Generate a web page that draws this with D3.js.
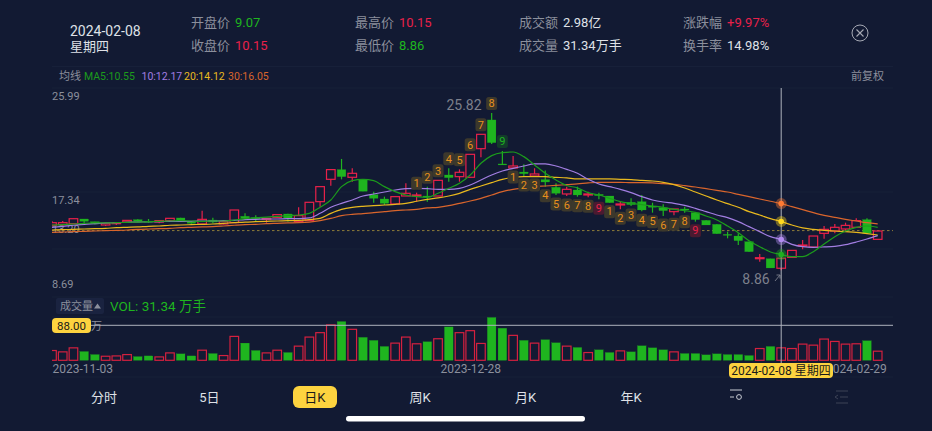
<!DOCTYPE html>
<html lang="zh">
<head>
<meta charset="utf-8">
<title>日K</title>
<script src="https://cdn.jsdelivr.net/npm/d3@7/dist/d3.min.js"></script>
<style>
html,body{margin:0;padding:0;background:#121a33;overflow:hidden}
svg{display:block}
text{font-family:"Roboto","Noto Sans CJK SC",sans-serif}
</style>
</head>
<body>
<svg id="chart" width="932" height="431"></svg>
<script>
// Trading days shown in the window
const dates = ["2023-11-03","2023-11-06","2023-11-07","2023-11-08","2023-11-09","2023-11-10","2023-11-13","2023-11-14","2023-11-15","2023-11-16","2023-11-17","2023-11-20","2023-11-21","2023-11-22","2023-11-23","2023-11-24","2023-11-27","2023-11-28","2023-11-29","2023-11-30","2023-12-01","2023-12-04","2023-12-05","2023-12-06","2023-12-07","2023-12-08","2023-12-11","2023-12-12","2023-12-13","2023-12-14","2023-12-15","2023-12-18","2023-12-19","2023-12-20","2023-12-21","2023-12-22","2023-12-25","2023-12-26","2023-12-27","2023-12-28","2023-12-29","2024-01-02","2024-01-03","2024-01-04","2024-01-05","2024-01-08","2024-01-09","2024-01-10","2024-01-11","2024-01-12","2024-01-15","2024-01-16","2024-01-17","2024-01-18","2024-01-19","2024-01-22","2024-01-23","2024-01-24","2024-01-25","2024-01-26","2024-01-29","2024-01-30","2024-01-31","2024-02-01","2024-02-02","2024-02-05","2024-02-06","2024-02-07","2024-02-08","2024-02-19","2024-02-20","2024-02-21","2024-02-22","2024-02-23","2024-02-26","2024-02-27","2024-02-28","2024-02-29"];

// Daily prices
const open  = [13.71,13.78,13.88,14.39,14.10,13.74,13.88,14.06,14.32,14.14,14.06,14.21,14.50,14.06,13.85,14.28,13.85,13.99,14.68,14.53,14.38,14.57,14.93,14.10,14.21,16.26,18.67,19.72,18.89,18.67,17.02,16.55,16.01,16.87,16.87,16.87,16.87,19.14,18.96,18.89,21.98,25.08,20.33,19.90,19.46,19.03,18.64,17.81,17.09,17.52,16.98,17.05,16.87,15.90,16.19,16.26,15.79,15.61,15.18,15.47,15.07,14.24,13.81,12.73,12.55,11.94,10.10,10.10,9.07,10.25,11.47,11.36,12.84,13.09,13.31,13.49,14.32,12.19];
const close = [13.99,13.99,14.42,14.14,13.85,13.92,13.99,14.24,14.14,14.06,14.21,14.46,14.17,13.92,14.35,14.06,14.10,15.36,14.46,14.42,14.46,14.86,14.50,14.75,16.19,17.88,19.72,18.96,19.32,17.38,16.62,16.08,16.80,17.16,16.98,16.76,18.56,18.85,19.43,21.37,23.53,22.63,20.26,20.11,19.28,19.25,18.38,17.16,17.59,16.98,17.09,16.91,16.15,16.01,15.94,15.36,15.65,15.29,15.47,15.36,14.32,13.74,12.80,12.62,12.05,10.86,10.21,9.10,10.15,11.00,11.58,12.55,13.27,13.49,13.70,14.21,12.84,13.09];
const high  = [14.17,14.17,14.42,14.39,14.10,13.95,14.00,14.26,14.36,14.39,14.22,14.48,14.52,14.10,15.29,14.53,14.15,15.36,15.00,14.78,14.46,14.90,14.95,15.65,16.19,17.88,19.72,20.87,19.86,18.67,17.34,16.80,16.80,18.24,17.23,17.88,18.56,19.86,19.75,21.37,23.53,25.82,21.73,21.19,20.29,19.86,19.61,18.24,17.88,17.88,17.34,17.23,16.87,16.26,16.62,16.98,16.15,15.97,15.47,15.72,15.07,14.24,13.81,13.02,12.84,11.94,10.61,10.10,10.15,11.00,12.12,12.55,13.63,13.85,13.99,14.46,14.46,13.09];
const low   = [13.49,13.56,13.88,13.92,13.80,13.63,13.75,14.02,14.08,13.99,13.92,14.18,14.12,13.88,13.85,13.92,13.80,13.99,14.28,14.10,13.99,14.50,14.10,14.10,14.21,15.72,17.99,18.67,18.42,17.38,16.15,15.90,16.01,16.87,16.26,16.26,16.87,18.42,18.42,18.89,21.05,22.49,20.26,19.90,19.03,19.03,17.88,16.98,16.87,16.80,16.73,16.51,16.15,15.43,15.79,15.22,15.07,14.71,14.78,15.07,14.10,13.74,12.80,12.30,11.58,10.86,9.78,9.10,8.86,10.25,11.11,11.36,12.26,12.84,13.09,13.42,12.84,12.19];

// Daily volume, in 万手
const volume = [24.6,21.2,31.3,22.0,14.4,10.2,11.0,14.4,9.3,11.0,8.5,18.6,16.1,11.0,25.4,16.9,11.9,60.1,43.2,24.6,18.6,25.4,19.5,35.6,58.4,69.5,88.9,97.4,77.9,57.6,50.0,34.7,43.2,58.4,41.5,46.6,54.2,83.9,69.5,74.5,42.4,107.6,80.5,62.7,50.0,43.2,51.7,44.0,35.6,32.2,19.5,26.3,19.5,23.7,21.2,36.4,31.3,26.3,21.2,16.9,16.9,13.6,16.1,14.4,14.4,11.9,29.6,34.7,31.34,29.6,40.7,38.1,53.4,47.4,40.7,41.5,49.1,22.9];

// Moving averages
const ma5  = [13.74,13.78,13.85,13.92,13.96,13.96,13.99,14.03,14.06,14.10,14.14,14.17,14.21,14.17,14.14,14.17,14.17,14.28,14.42,14.53,14.60,14.68,14.75,14.82,15.00,15.65,16.44,17.88,18.53,18.67,18.53,17.88,17.34,16.98,16.80,16.73,17.16,17.70,18.24,19.14,20.40,21.23,21.55,21.62,21.12,20.22,19.32,18.60,18.00,17.75,17.23,16.98,16.62,16.26,16.08,15.94,15.79,15.65,15.43,15.29,15.11,14.71,14.28,13.63,12.91,12.05,11.40,10.83,10.55,10.32,10.32,10.86,11.69,12.48,13.09,13.49,13.63,13.49];
const ma10 = [13.49,13.60,13.71,13.81,13.88,13.96,13.99,14.03,14.06,14.10,14.10,14.14,14.14,14.14,14.17,14.17,14.21,14.24,14.32,14.35,14.39,14.39,14.42,14.42,14.50,15.00,15.65,16.08,16.44,16.87,17.09,17.30,17.52,17.66,17.70,17.66,17.59,17.59,17.70,18.06,18.60,19.14,19.57,19.86,20.11,20.33,20.33,20.11,19.75,19.32,18.67,18.17,17.88,17.59,17.23,16.80,16.44,16.22,16.08,15.86,15.54,15.18,14.82,14.53,14.10,13.56,13.02,12.48,12.17,11.65,11.40,11.33,11.37,11.44,11.62,11.90,12.23,12.59];
const ma20 = [13.20,13.24,13.27,13.31,13.34,13.38,13.45,13.49,13.53,13.60,13.63,13.71,13.74,13.78,13.81,13.85,13.92,13.99,14.06,14.10,14.14,14.17,14.21,14.24,14.32,14.46,15.00,15.43,15.65,15.76,15.83,15.90,15.97,16.08,16.30,16.51,16.66,16.87,17.16,17.59,17.95,18.31,18.67,18.89,18.96,18.96,18.96,18.89,18.82,18.71,18.71,18.71,18.71,18.67,18.64,18.56,18.49,18.35,18.10,17.74,17.30,16.87,16.44,16.04,15.65,15.18,14.82,14.42,14.12,13.74,13.42,13.27,13.16,13.09,13.02,12.95,12.80,12.66];
const ma30 = [12.95,12.98,13.02,13.06,13.09,13.13,13.16,13.20,13.27,13.31,13.34,13.38,13.45,13.49,13.53,13.56,13.63,13.71,13.78,13.81,13.88,13.92,13.96,13.99,14.06,14.21,14.45,14.75,14.89,14.97,15.07,15.18,15.29,15.36,15.43,15.58,15.65,15.83,16.08,16.33,16.62,16.98,17.34,17.59,17.74,17.88,17.95,18.02,18.10,18.17,18.28,18.35,18.35,18.35,18.31,18.31,18.28,18.20,18.13,17.99,17.84,17.66,17.48,17.30,17.05,16.80,16.55,16.30,16.05,15.72,15.40,15.07,14.78,14.57,14.35,14.17,13.99,13.85];

// Nine-count markers: [date, count]
const countsAbove = [["2023-12-21",1],["2023-12-22",2],["2023-12-25",3],["2023-12-26",4],["2023-12-27",5],["2023-12-28",6],["2023-12-29",7],["2024-01-02",8],["2024-01-03",9]];
const countsBelow = [["2024-01-04",1],["2024-01-05",2],["2024-01-08",3],["2024-01-09",4],["2024-01-10",5],["2024-01-11",6],["2024-01-12",7],["2024-01-15",8],["2024-01-16",9],["2024-01-17",1],["2024-01-18",2],["2024-01-19",3],["2024-01-22",4],["2024-01-23",5],["2024-01-24",6],["2024-01-25",7],["2024-01-26",8],["2024-01-29",9]];

// Axis labels
const priceTicks = [25.99, 17.34, 13.20, 8.69];
const dateTicks = ["2023-11-03","2023-12-28","2024-02-29"];
const tabs = ["分时","5日","日K","周K","月K","年K"];
const selectedDate = "2024-02-08";
const selectedVolume = 88;

const C = {bg:"#121a33", grid:"#172039", label:"#8b8f9c", white:"#dfe1e7", red:"#e8214a", green:"#1fb51f",
           ma5:"#1c9c1c", ma10:"#a27ee2", ma20:"#e9b91e", ma30:"#d9652c", pill:"#fdd33f"};

const svg = d3.select("#chart");
const x = d3.scalePoint().domain(dates).range([52, 877.7]);
const y = d3.scaleLinear().domain([8.86, 25.82]).range([270.2, 113.1]);
const yVol = d3.scaleLinear().domain([0, 88]).range([360.3, 325.3]);
const candleW = 8.6;
const up = i => close[i] >= open[i];

const txt = (s, tx, ty, fill, size, anchor) => svg.append("text").attr("x", tx).attr("y", ty)
  .attr("fill", fill).attr("font-size", size).attr("text-anchor", anchor || "start")
  .attr("dominant-baseline", "central").text(s);

svg.append("rect").attr("width", 932).attr("height", 431).attr("fill", C.bg);
svg.append("defs").append("clipPath").attr("id", "plot").append("rect")
  .attr("x", 52).attr("y", 88).attr("width", 841).attr("height", 280);

// Frame lines of the panels
[66.5, 88, 192, 249, 297, 317, 377].forEach(g => svg.append("line").attr("x1", 52).attr("x2", 893)
  .attr("y1", g).attr("y2", g).attr("stroke", C.grid).attr("stroke-width", 1));

// Header block
txt("2024-02-08", 70, 31, C.white, 14);
txt("星期四", 70, 46, C.white, 13);
const headerCells = [
  ["开盘价","9.07",191,22,C.green],["收盘价","10.15",191,45,C.red],
  ["最高价","10.15",355,22,C.red],["最低价","8.86",355,45,C.green],
  ["成交额","2.98亿",519,22,C.white],["成交量","31.34万手",519,45,C.white],
  ["涨跌幅","+9.97%",683,22,C.red],["换手率","14.98%",683,45,C.white]];
headerCells.forEach(([k,v,cx,cy,col]) => { txt(k,cx,cy,C.label,13); txt(v,cx+44,cy,col,13); });
const closeIcon = svg.append("g").attr("transform","translate(860,33)").attr("stroke","#a6a9b4").attr("fill","none");
closeIcon.append("circle").attr("r",8).attr("stroke-width",1);
closeIcon.append("path").attr("d","M-3.5,-3.5L3.5,3.5M3.5,-3.5L-3.5,3.5").attr("stroke-width",1.1);

// Moving-average legend
txt("均线",59,76,C.label,11);
txt("MA5:"+ma5[68].toFixed(2),84,76,C.ma5,10.5);
txt("10:"+ma10[68].toFixed(2),141.5,76,C.ma10,10.5);
txt("20:"+ma20[68].toFixed(2),184,76,C.ma20,10.5);
txt("30:"+ma30[68].toFixed(2),228,76,C.ma30,10.5);
txt("前复权",884,76,C.label,11,"end");

// Price labels sit just off their levels so they clear the candles
const tickShift = {25.99:-15.5, 17.34:9, 13.20:0, 8.69:13};
priceTicks.forEach(p => txt(p.toFixed(2), 52, y(p)+tickShift[p], C.label, 11));

// Last-close reference line
svg.append("line").attr("x1",52).attr("x2",893).attr("y1",y(13.20)+0.6).attr("y2",y(13.20)+0.6)
  .attr("stroke","#8f7d3a").attr("stroke-width",1).attr("stroke-dasharray","2.5 2.5");

const plot = svg.append("g").attr("clip-path","url(#plot)");

// Candles
const candles = plot.selectAll("g.candle").data(dates).join("g").attr("class","candle");
candles.append("line")
  .attr("x1",d=>x(d)).attr("x2",d=>x(d))
  .attr("y1",(d,i)=>y(high[i])).attr("y2",(d,i)=>y(low[i]))
  .attr("stroke",(d,i)=>up(i)?C.red:C.green).attr("stroke-width",1.2);
candles.append("rect")
  .attr("x",d=>x(d)-candleW/2).attr("width",candleW)
  .attr("y",(d,i)=>y(Math.max(open[i],close[i])))
  .attr("height",(d,i)=>Math.max(1,Math.abs(y(open[i])-y(close[i]))))
  .attr("fill",(d,i)=>up(i)?C.bg:C.green)
  .attr("stroke",(d,i)=>up(i)?C.red:C.green).attr("stroke-width",(d,i)=>up(i)?1.2:0.2);

// Moving-average lines
const lineGen = d3.line().x((d,i)=>x(dates[i])).y(d=>y(d)).curve(d3.curveMonotoneX);
[[ma30,C.ma30],[ma20,C.ma20],[ma10,C.ma10],[ma5,C.ma5]].forEach(([s,col]) =>
  plot.append("path").attr("d",lineGen(s)).attr("fill","none").attr("stroke",col).attr("stroke-width",1.2));

// Extreme price callouts
txt("25.82", 464, 105, "#7d808c", 14, "middle");
txt("8.86", 756, 279, "#7d808c", 14, "middle");
svg.append("path").attr("d","M775,281L780,275M776.5,275H780V278.5").attr("fill","none").attr("stroke","#7d808c").attr("stroke-width",0.9);

// Nine-count badges
function badge(date, n, cy) {
  const cx = x(date);
  const nine = n === 9;
  const above = cy < y(close[dates.indexOf(date)]);
  const bg = nine ? (above ? "#133b2b" : "#4a1a30") : "#3c382c";
  const fg = nine ? (above ? C.green : C.red) : "#e8901c";
  svg.append("rect").attr("x",cx-5.5).attr("y",cy-6.5).attr("width",11).attr("height",13).attr("rx",2.5).attr("fill",bg);
  txt(n, cx, cy+0.3, fg, 11, "middle");
}
countsAbove.forEach(([d,n]) => badge(d, n, y(high[dates.indexOf(d)])-9.5));
countsBelow.forEach(([d,n]) => badge(d, n, y(low[dates.indexOf(d)])+9));

// Volume panel
svg.append("rect").attr("x",56).attr("y",298).attr("width",48).attr("height",16).attr("rx",2).attr("fill","#1a2340");
txt("成交量",60,306,C.label,11);
svg.append("path").attr("d","M94,308.5L97.5,303.5L101,308.5Z").attr("fill",C.label);
txt("VOL: 31.34 万手",110,306,C.green,13.5);
txt("万",91,326,C.label,11);

plot.selectAll("rect.vol").data(dates).join("rect").attr("class","vol")
  .attr("x",d=>x(d)-candleW/2).attr("width",candleW)
  .attr("y",(d,i)=>yVol(volume[i])).attr("height",(d,i)=>yVol(0)-yVol(volume[i]))
  .attr("fill",(d,i)=>up(i)?C.bg:C.green)
  .attr("stroke",(d,i)=>up(i)?"#d4213f":C.green).attr("stroke-width",(d,i)=>up(i)?1.2:0.2);

// Date axis
const dateAxis = d3.axisBottom(x).tickValues(dateTicks).tickSize(0).tickPadding(0);
const gx = svg.append("g").attr("transform","translate(0,369)").call(dateAxis);
gx.select(".domain").remove();
gx.selectAll("text").attr("fill",C.label).attr("font-size",12).attr("dy",0).attr("dominant-baseline","central")
  .attr("text-anchor",d=>d===dateTicks[0]?"start":d===dateTicks[2]?"end":"middle")
  .attr("dx",d=>d===dateTicks[2]?"8.5":"0")
  .attr("style",'font-family:"Roboto","Noto Sans CJK SC",sans-serif');

// Crosshair on the selected day
const sx = x(selectedDate);
svg.append("line").attr("x1",sx).attr("x2",sx).attr("y1",88).attr("y2",363).attr("stroke","#aeb2bd").attr("stroke-width",1);
svg.append("line").attr("x1",52).attr("x2",893).attr("y1",yVol(selectedVolume)).attr("y2",yVol(selectedVolume)).attr("stroke","#aeb2bd").attr("stroke-width",1);
[[ma30,"#ff7a33"],[ma20,"#ffd91f"],[ma10,"#b28cf0"],[ma5,"#1fae1f"]].forEach(([s,col]) => {
  const cy = y(s[68]);
  svg.append("circle").attr("cx",sx).attr("cy",cy).attr("r",5.5).attr("fill",col).attr("opacity",0.4);
  svg.append("circle").attr("cx",sx).attr("cy",cy).attr("r",2.8).attr("fill",col);
});

// Crosshair tags
svg.append("rect").attr("x",52).attr("y",318).attr("width",39).attr("height",15).attr("rx",4).attr("fill",C.pill);
txt(selectedVolume.toFixed(2),71.5,325.5,"#1a1a1a",11.5,"middle");
svg.append("rect").attr("x",729).attr("y",363).attr("width",104).attr("height",15).attr("rx",4).attr("fill",C.pill);
txt(selectedDate+" 星期四",781,370.5,"#1a1a1a",12,"middle");

// Period tabs
svg.append("rect").attr("x",293).attr("y",386).attr("width",44).attr("height",22).attr("rx",6).attr("fill",C.pill);
const tabX = d3.scalePoint().domain(tabs).range([104,631]);
tabs.forEach(t => txt(t, tabX(t), 397, t==="日K"?"#1a1a1a":C.white, 13, "middle"));
const indicatorIcon = svg.append("g").attr("stroke","#c9ccd4").attr("fill","none").attr("stroke-width",1);
indicatorIcon.append("path").attr("d","M730,390H742M730,397H734");
indicatorIcon.append("circle").attr("cx",739).attr("cy",397).attr("r",2.4);
const listIcon = svg.append("g").attr("stroke","#3c4256").attr("fill","none").attr("stroke-width",1);
listIcon.append("path").attr("d","M836,391H848M840,397H848M836,403H848M838,395L835,397L838,399");

// Home indicator
svg.append("rect").attr("x",346).attr("y",416).attr("width",239).attr("height",5.5).attr("rx",2.7).attr("fill","#ffffff");
</script>
</body>
</html>
